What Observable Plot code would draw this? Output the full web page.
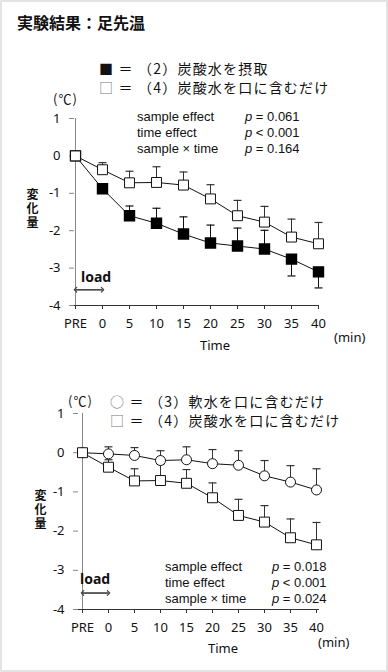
<!DOCTYPE html>
<html>
<head>
<meta charset="utf-8">
<script src="https://cdn.jsdelivr.net/npm/d3@7"></script>
<script src="https://cdn.jsdelivr.net/npm/@observablehq/plot@0.6"></script>
<style>
  html, body { margin: 0; padding: 0; background: #fff; }
  #wrap { position: relative; width: 388px; height: 672px; background: #fff; overflow: hidden;
          font-family: "Noto Sans CJK JP", "Noto Sans", sans-serif; color: #111; }
  #frame { position: absolute; left: 0; top: 0; width: 388px; height: 672px; box-sizing: border-box;
           border: 2px solid #e4e4e4; pointer-events: none; }
  .t { position: absolute; white-space: nowrap; line-height: 1; }
  .cjk { font-family: "Noto Sans CJK JP", sans-serif; }
  .leg { font-family: "Noto Sans CJK JP", sans-serif; font-size: 14px; letter-spacing: 1.2px; }
  .lat { font-family: "Liberation Sans", Arial, sans-serif; font-size: 13px; }
  .yv { font-family: "Noto Sans CJK JP", sans-serif; font-weight: 700; font-size: 12px; line-height: 14px;
        writing-mode: vertical-rl; letter-spacing: 2px; }
  .plot { position: absolute; left: 0; }
  .gray { color: #777; }
</style>
</head>
<body>
<div id="wrap">
  <div class="t cjk" style="left:17px;top:14px;font-size:16px;font-weight:700;">実験結果：足先温</div>

  <div class="t leg" style="left:99px;top:61px;"><span>■</span> ＝ （2）炭酸水を摂取</div>
  <div class="t leg" style="left:99px;top:80px;"><span class="gray">□</span> ＝ （4）炭酸水を口に含むだけ</div>
  <div class="t cjk" style="left:53px;top:92px;font-size:13px;letter-spacing:1px;">(℃)</div>

  <div id="p1" class="plot" style="top:100px;"></div>
  <div id="p2" class="plot" style="top:395px;"></div>

  <div class="t yv" style="left:25px;top:188px;">変化量</div>
  <div class="t yv" style="left:33px;top:489px;">変化量</div>

  <div class="t lat" style="left:137px;top:110px;">sample effect</div>
  <div class="t lat" style="left:137px;top:126px;">time effect</div>
  <div class="t lat" style="left:137px;top:142px;">sample × time</div>
  <div class="t lat" style="left:245px;top:110px;"><i>p</i> = 0.061</div>
  <div class="t lat" style="left:245px;top:126px;"><i>p</i> &lt; 0.001</div>
  <div class="t lat" style="left:245px;top:142px;"><i>p</i> = 0.164</div>

  <div class="t" style="left:81px;top:270px;font-family:'Noto Sans',sans-serif;font-weight:700;font-size:14px;">load</div>
  <div class="t" style="left:200px;top:339px;font-family:'Noto Sans',sans-serif;font-size:13px;">Time</div>
  <div class="t" style="left:334px;top:331px;font-family:'Noto Sans',sans-serif;font-size:13px;">(min)</div>

  <div class="t cjk" style="left:68px;top:394px;font-size:13px;letter-spacing:1px;">(℃)</div>
  <div class="t leg" style="left:110px;top:394px;"><span class="gray">○</span> ＝ （3）軟水を口に含むだけ</div>
  <div class="t leg" style="left:110px;top:413px;"><span class="gray">□</span> ＝ （4）炭酸水を口に含むだけ</div>

  <div class="t lat" style="left:165px;top:560px;">sample effect</div>
  <div class="t lat" style="left:165px;top:576px;">time effect</div>
  <div class="t lat" style="left:165px;top:592px;">sample × time</div>
  <div class="t lat" style="left:272px;top:560px;"><i>p</i> = 0.018</div>
  <div class="t lat" style="left:272px;top:576px;"><i>p</i> &lt; 0.001</div>
  <div class="t lat" style="left:272px;top:592px;"><i>p</i> = 0.024</div>

  <div class="t" style="left:80px;top:572px;font-family:'Noto Sans',sans-serif;font-weight:700;font-size:14px;">load</div>
  <div class="t" style="left:208px;top:642px;font-family:'Noto Sans',sans-serif;font-size:13px;">Time</div>
  <div class="t" style="left:318px;top:636px;font-family:'Noto Sans',sans-serif;font-size:13px;">(min)</div>

  <div id="frame"></div>
</div>
<script>
// ---------- data ----------
const times = ["PRE", "0", "5", "10", "15", "20", "25", "30", "35", "40"];
const yTicks = [1, 0, -1, -2, -3, -4];

// (2) 炭酸水を摂取 (filled squares)
const drinkMean = [0, -0.88, -1.60, -1.80, -2.09, -2.33, -2.41, -2.49, -2.76, -3.10];
const drinkSD   = [0, 0.05, 0.26, 0.40, 0.46, 0.48, 0.48, 0.50, 0.45, 0.43];
const drinkDir  = [1, 1, 1, 1, 1, 1, 1, 1, -1, -1];

// (4) 炭酸水を口に含むだけ (open squares)
const rinseCarbMean = [0, -0.37, -0.72, -0.71, -0.78, -1.15, -1.60, -1.77, -2.17, -2.35];
const rinseCarbSD   = [0, 0.19, 0.31, 0.42, 0.35, 0.38, 0.41, 0.42, 0.48, 0.57];

// (3) 軟水を口に含むだけ (open circles)
const rinseSoftMean = [0, -0.03, -0.07, -0.20, -0.18, -0.28, -0.32, -0.59, -0.75, -0.95];
const rinseSoftSD   = [0, 0.18, 0.20, 0.25, 0.33, 0.36, 0.37, 0.39, 0.42, 0.54];

// "load" double arrow between PRE and 0
const loadEnds = ["PRE", "0"];
const loadLevel = -3.58;

// ---------- helpers ----------
const rows = (mean, sd, dir) => times.map((t, i) => ({t, m: mean[i], sd: sd[i], end: mean[i] + (dir ? dir[i] : 1) * sd[i]}));
const capSymbol = {draw(ctx, size) { const w = Math.sqrt(size) / 2; ctx.moveTo(-w, 0); ctx.lineTo(w, 0); }};

function errorMarks(data, color) {
  const d = data.filter(r => r.sd > 0);
  return [
    Plot.ruleX(d, {x: "t", y1: "m", y2: "end", stroke: color, strokeWidth: 1}),
    Plot.dot(d, {x: "t", y: "end", symbol: capSymbol, r: 4.5, stroke: color, strokeWidth: 1.2, fill: "none"})
  ];
}

function frameMarks() {
  return [
    Plot.ruleY([yTicks[yTicks.length - 1]], {stroke: "#333", strokeWidth: 1}),
    Plot.ruleX([times[0]], {x: d => d, stroke: "#888", strokeWidth: 1}),
    Plot.axisY({ticks: yTicks, tickSize: 5, tickPadding: 9, tickFormat: d => String(d), stroke: "#888", label: null, fontSize: 13}),
    Plot.axisX({tickSize: 4, tickPadding: 9, label: null, stroke: "#333", fontSize: 13})
  ];
}

function loadArrow() {
  // two overlapping links, each with an arrowhead at its end, form a double-headed arrow
  const pairs = [{a: loadEnds[0], b: loadEnds[1]}, {a: loadEnds[1], b: loadEnds[0]}];
  return Plot.link(pairs, {x1: "a", x2: "b", y1: () => loadLevel, y2: () => loadLevel, stroke: "#444", strokeWidth: 1.2, markerEnd: "arrow"});
}

const baseStyle = {fontFamily: '"Noto Sans", sans-serif', fontSize: "13px", color: "#111", background: "transparent", overflow: "visible"};

const drink = rows(drinkMean, drinkSD, drinkDir);
const rinseCarb = rows(rinseCarbMean, rinseCarbSD);
const rinseSoft = rows(rinseSoftMean, rinseSoftSD);

// ---------- panel 1 ----------
const p1 = Plot.plot({
  width: 388, height: 260,
  marginTop: 18, marginBottom: 55, marginLeft: 74, marginRight: 70,
  x: {type: "point", domain: times, padding: 0},
  y: {domain: [-4, 1]},
  style: baseStyle,
  marks: [
    ...frameMarks(),
    loadArrow(),
    Plot.line(drink, {x: "t", y: "m", stroke: "#111", strokeWidth: 1}),
    Plot.line(rinseCarb, {x: "t", y: "m", stroke: "#111", strokeWidth: 1}),
    ...errorMarks(drink, "#111"),
    ...errorMarks(rinseCarb, "#333"),
    Plot.dot(drink, {x: "t", y: "m", symbol: "square", r: 5.6, fill: "#000", stroke: "#000"}),
    Plot.dot(rinseCarb, {x: "t", y: "m", symbol: "square", r: 5.6, fill: "#fff", stroke: "#111", strokeWidth: 1})
  ]
});
document.getElementById("p1").append(p1);

// ---------- panel 2 ----------
const p2 = Plot.plot({
  width: 388, height: 269,
  marginTop: 18, marginBottom: 55, marginLeft: 78, marginRight: 69,
  x: {type: "point", domain: times, padding: 0},
  y: {domain: [-4, 1]},
  style: baseStyle,
  marks: [
    ...frameMarks(),
    loadArrow(),
    Plot.line(rinseSoft, {x: "t", y: "m", stroke: "#111", strokeWidth: 1}),
    Plot.line(rinseCarb, {x: "t", y: "m", stroke: "#111", strokeWidth: 1}),
    ...errorMarks(rinseCarb, "#333"),
    ...errorMarks(rinseSoft, "#333"),
    Plot.dot(rinseSoft, {x: "t", y: "m", r: 5, fill: "#fff", stroke: "#111", strokeWidth: 1}),
    Plot.dot(rinseCarb, {x: "t", y: "m", symbol: "square", r: 5.6, fill: "#fff", stroke: "#111", strokeWidth: 1})
  ]
});
document.getElementById("p2").append(p2);
</script>
</body>
</html>
